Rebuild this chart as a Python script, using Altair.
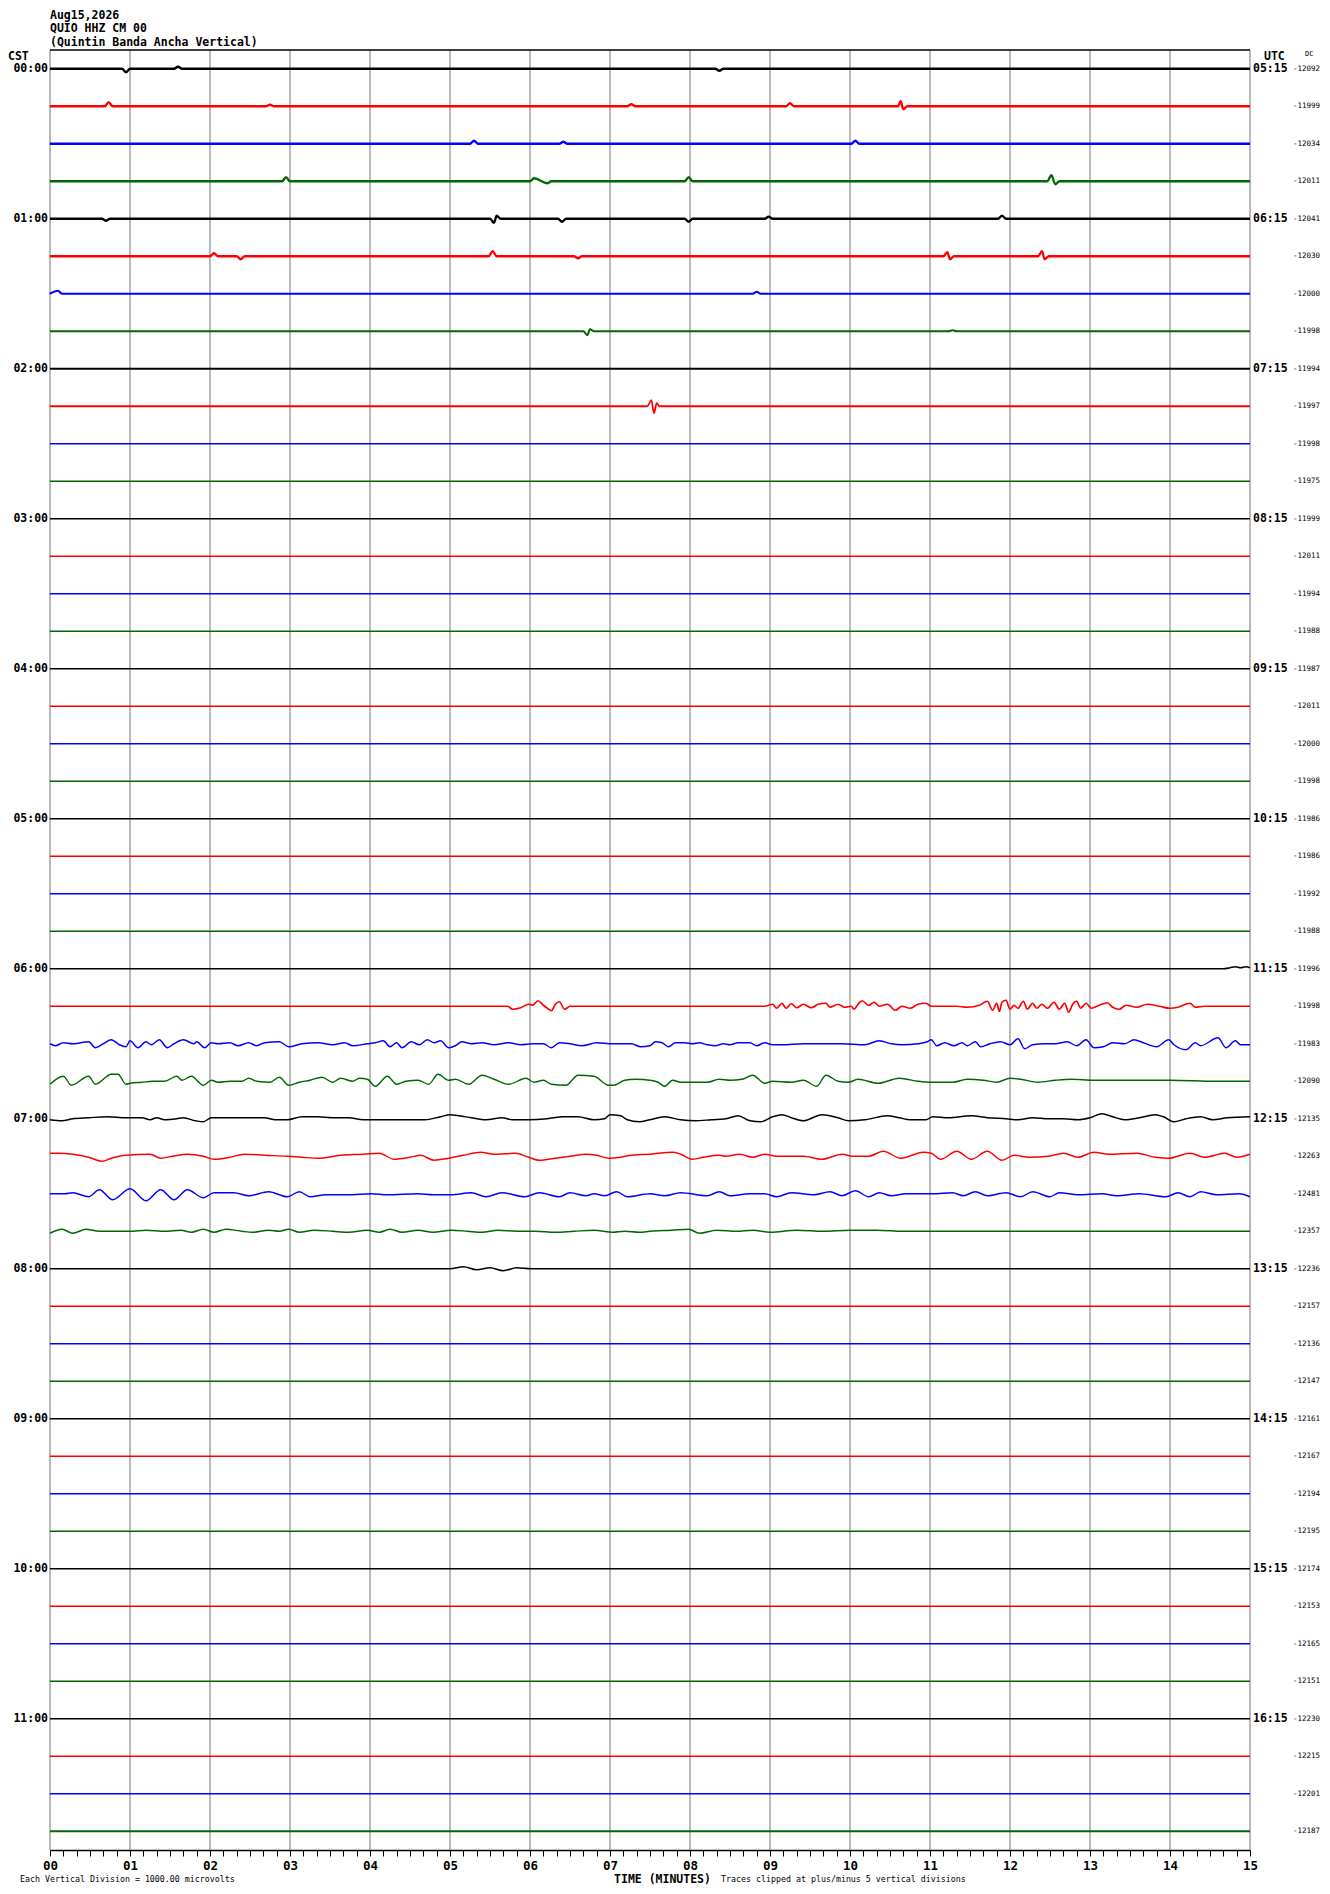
import altair as alt
import pandas as pd

FONT = "DejaVu Sans Mono"

TITLE_LINES = ["Aug15,2026", "QUIO HHZ CM 00", "(Quintin Banda Ancha Vertical)"]
LABEL_ROWS = [0, 4, 8, 12, 16, 20, 24, 28, 32, 36, 40, 44]
CST_LABELS = ["00:00", "01:00", "02:00", "03:00", "04:00", "05:00",
              "06:00", "07:00", "08:00", "09:00", "10:00", "11:00"]
UTC_LABELS = ["05:15", "06:15", "07:15", "08:15", "09:15", "10:15",
              "11:15", "12:15", "13:15", "14:15", "15:15", "16:15"]
DC_VALUES = [-12092, -11999, -12034, -12011, -12041, -12030, -12000, -11998,
             -11994, -11997, -11998, -11975, -11999, -12011, -11994, -11988,
             -11987, -12011, -12000, -11998, -11986, -11986, -11992, -11988,
             -11996, -11998, -11983, -12090, -12135, -12263, -12481, -12357,
             -12236, -12157, -12136, -12147, -12161, -12167, -12194, -12195,
             -12174, -12153, -12165, -12151, -12230, -12215, -12201, -12187]
TRACE_COLORS = ["k", "r", "b", "g"]
MINUTES = [0, 1, 2, 3, 4, 5, 6, 7, 8, 9, 10, 11, 12, 13, 14, 15]
# visual noise level of each trace (1 = quiet, 3 = very noisy)
NOISE_LEVEL = [3, 3, 3, 3, 3, 3, 2.8, 2.6,
               2.2, 2.1, 1.7, 1.7, 1.5, 1.4, 1.3, 1.3,
               1.3, 1.3, 1.3, 1.3, 1.3, 1.3, 1.3, 1.4,
               1.9, 2, 1.6, 1.5, 1.6, 1.6, 1.6, 1.6,
               1.9, 1.5, 1.5, 1.6, 1.7, 1.5, 1.5, 1.5,
               1.5, 1.5, 1.5, 1.5, 1.6, 1.5, 1.6, 2.4]

# (seconds, amplitude) keypoints read from the record, amplitude in counts (up = +)
TR_0000 = [(0, 0), (54, 0), (57, -3.5), (60, 0), (93, 0), (96, 2), (99, 0), (499, 0), (502, -2), (505, 0), (900, 0)]
TR_0015 = [(0, 0), (41, 0), (44, 4), (47, 0), (162, 0), (165, 1.5), (168, 0), (433, 0), (436, 2), (439, 0),
           (552, 0), (555, 3), (558, 0), (636, 0), (638, 5), (640, -3), (643, 0), (900, 0)]
TR_0030 = [(0, 0), (315, 0), (318, 3), (321, 0), (382, 0), (385, 2), (388, 0), (601, 0), (604, 3), (607, 0), (900, 0)]
TR_0045 = [(0, 0), (174, 0), (177, 4), (180, 0), (360, 0), (363, 3), (373, -2), (376, 0), (476, 0), (479, 4),
           (482, 0), (748, 0), (751, 6), (754, -3), (757, 0), (900, 0)]
TR_0100 = [(0, 0), (39, 0), (42, -2), (45, 0), (330, 0), (333, -4), (335, 3), (338, 0), (381, 0), (384, -3),
           (387, 0), (476, 0), (479, -3), (482, 0), (536, 0), (539, 2), (542, 0), (711, 0), (714, 3), (717, 0), (900, 0)]
TR_0115 = [(0, 0), (120, 0), (123, 3), (126, 0), (140, 0), (143, -3), (146, 0), (329, 0), (332, 5), (335, 0),
           (393, 0), (396, -2), (399, 0), (670, 0), (673, 4), (675, -3), (678, 0), (741, 0), (744, 5),
           (746, -3), (749, 0), (900, 0)]
TR_0130 = [(0, 0), (6, 3), (9, 0), (527, 0), (530, 2), (533, 0), (900, 0)]
TR_0145 = [(0, 0), (400, 0), (403, -4), (405, 2), (408, 0), (674, 0), (677, 1), (680, 0), (900, 0)]
TR_0215 = [(0, 0), (448, 0), (451, 6), (453, -7), (455, 3), (457, 0), (900, 0)]
TR_0600 = [(0, 0), (880, 0), (885, 1), (889, 2), (893, 1), (897, 2), (900, 1)]
TR_0615 = [(0, 0), (343, 0), (347, -3), (353, -1.5), (359, 2), (362, 1), (366, 5.5), (370, 1), (373, -2),
           (376, -4.5), (379, 2), (382, 4.5), (386, -3), (390, 0), (396, 0), (536, 0), (542, 2), (545, -2),
           (549, 3), (552, -2), (556, 2.5), (560, -1.5), (565, 2), (571, -1.5), (576, 2), (582, 3), (585, -1),
           (591, 2), (596, -1), (601, 0), (603, -3), (606, 2), (609, 5.5), (614, 1), (618, 4), (622, 0),
           (628, 2), (634, -4), (639, 0), (645, -2), (651, 2), (657, 3), (661, 0), (680, 0), (688, -1),
           (697, 1), (703, 5), (707, -4), (710, 3), (712, -5), (714, 4), (717, 6), (720, -3), (723, 1),
           (726, -2), (730, 5), (733, -3), (737, 3), (740, -2), (744, 2), (748, -2), (753, 4), (757, -3),
           (761, 3), (764, -6), (767, 2), (770, 5), (773, -2), (777, 3), (781, -2), (787, 1), (793, 3.5),
           (797, -1), (802, -3), (807, 1), (815, -1), (823, 2), (832, 0), (840, -2), (846, -1), (855, 3),
           (859, -1), (866, 0), (900, 0)]
TR_0630 = [(0, 0), (4, -2), (10, 1), (17, 0), (23, 1), (29, 2), (34, -4), (40, 0), (46, 4), (52, -1), (57, -3),
           (60, 3), (66, -4), (72, 2), (76, -1), (82, 4), (88, -4), (93, 0), (100, 4), (108, 0), (110, 2),
           (116, -4), (121, 1), (126, 0), (135, 1), (141, -2), (149, 1), (155, -2), (161, 1), (172, 2),
           (179, -3), (189, 0), (201, 1), (212, -1), (221, 1), (227, -2), (238, 0), (244, 1), (250, 3),
           (255, -3), (260, 1), (264, -4), (271, 2), (277, -1), (283, 4), (288, 1), (293, 3), (299, -4),
           (304, -2), (309, 2), (316, 0), (324, 1), (333, -1), (344, 1), (353, -1), (362, 0), (370, 0),
           (376, -4), (382, 1), (390, 0), (399, -2), (410, 1), (422, 0), (436, 0), (443, -3), (450, -2),
           (454, 2), (459, 1), (464, -3), (469, 1), (476, 1), (482, 0), (487, 1), (493, -1), (499, -2),
           (505, 0), (510, -1), (516, 1), (525, 1), (530, -2), (536, 1), (542, -1), (549, -1), (565, 0),
           (579, 0), (594, 0), (611, -1), (622, 3), (631, 0), (639, -1), (651, 0), (658, 2), (661, 4),
           (665, -2), (671, 1), (678, -2), (684, 1), (688, -2), (694, 2), (698, -3), (705, 0), (713, 2),
           (720, -1), (726, 5), (731, -5), (737, -1), (746, 0), (754, 0), (763, 2), (770, -2), (777, 4),
           (783, -4), (790, -3), (797, 1), (806, 0), (813, 4), (820, 1), (830, -3), (839, 4), (843, -1),
           (852, -6), (859, 1), (863, -2), (876, 6), (882, -4), (889, 3), (893, -1), (900, -1)]
TR_0645 = [(0, -3), (10, 5), (16, -4), (29, 5), (34, -3), (46, 7), (51, 7), (57, -3), (60, -2), (69, -1),
           (77, 0), (86, 0), (95, 5), (99, 1), (106, 5), (115, -4), (121, 1), (126, -1), (135, 0), (144, 0),
           (149, 3), (155, 0), (165, -1), (172, 4), (179, -4), (187, -1), (195, 1), (204, 4), (212, -1),
           (218, 3), (227, 0), (232, 3), (238, 2), (244, -5), (253, 5), (260, -3), (267, 0), (276, 1),
           (284, -3), (291, 7), (299, 1), (304, 2), (314, -3), (324, 6), (333, 2), (344, -3), (357, 3),
           (363, -1), (370, 1), (376, -3), (387, -4), (396, 6), (408, 5), (419, -4), (423, -4), (431, 1),
           (439, 2), (450, 1), (456, -1), (461, -5), (467, 1), (473, -1), (479, -1), (493, -1), (502, 2),
           (510, 1), (519, 2), (527, 6), (536, -2), (542, 0), (556, -1), (565, 1), (575, -5), (582, 6),
           (591, 0), (599, -1), (606, 2), (621, -2), (637, 3), (651, 0), (661, -1), (677, -1), (688, 2),
           (700, 1), (710, -1), (720, 3), (728, 2), (741, -1), (754, 1), (766, 2), (783, 1), (809, 1),
           (840, 1), (875, 0), (900, 0)]
TR_0700 = [(0, -1), (9, -2), (17, 0), (29, 1), (43, 2), (57, 1), (69, 1), (75, -1), (80, 1), (86, -1),
           (95, 0), (100, 1), (109, -2), (115, -3), (121, 1), (138, 1), (149, 1), (161, 1), (169, -1),
           (178, -1), (189, 2), (201, 2), (212, 1), (224, 1), (235, -1), (241, -1), (253, -1), (264, -1),
           (281, -1), (293, 2), (300, 4), (307, 3), (316, 1), (327, -1), (339, 1), (347, -1), (359, -1),
           (373, 0), (385, 2), (396, 2), (408, -1), (416, 0), (420, 4), (428, 3), (433, -1), (442, -3),
           (450, -1), (461, 2), (473, -1), (484, -2), (496, -1), (507, 0), (516, 3), (525, -2), (533, -3),
           (542, 2), (549, 4), (556, 1), (565, -2), (579, 4), (591, 1), (599, -2), (611, -1), (628, 3),
           (637, 1), (645, -1), (657, -1), (662, 2), (674, 1), (691, 3), (703, 1), (717, 0), (726, -1),
           (737, 1), (749, 0), (760, 0), (771, -1), (780, 1), (789, 5), (797, 2), (806, -1), (817, 1),
           (829, 4), (835, 2), (843, -3), (852, 0), (863, 2), (872, -1), (883, 1), (900, 2)]
TR_0715 = [(0, 3), (6, 3), (17, 2), (29, -1), (39, -5), (46, -2), (57, 1), (75, 2), (83, -2), (92, 0),
           (103, 2), (115, 0), (123, -3), (135, -1), (146, 2), (161, 1), (178, 0), (189, -1), (201, -2),
           (218, 1), (235, 2), (247, 3), (258, -3), (270, -1), (278, 1), (288, -4), (299, -2), (310, 1),
           (323, 4), (333, 2), (349, 3), (359, -1), (367, -4), (379, -2), (390, 0), (402, 2), (410, 1),
           (419, -2), (428, -1), (436, 1), (450, 2), (467, 4), (473, 2), (482, -3), (490, -1), (502, 1),
           (507, 0), (517, 2), (527, -1), (536, 2), (545, 0), (565, 0), (579, -3), (594, 2), (602, 0),
           (614, 0), (625, 5), (638, -2), (655, 4), (661, 3), (668, -3), (680, 5), (691, -3), (703, 5),
           (714, -4), (723, 1), (734, -1), (749, 0), (760, 3), (771, -1), (783, 4), (794, 2), (815, 3),
           (829, -1), (839, -2), (855, 3), (866, -1), (881, 3), (890, -1), (900, 2)]
TR_0730 = [(0, 0), (11, 0), (17, 1), (29, -3), (37, 4), (47, -6), (60, 5), (72, -7), (83, 4), (93, -6),
           (103, 4), (115, -4), (123, 1), (138, 1), (149, -2), (164, 2), (178, -3), (187, 2), (195, -3),
           (207, -1), (224, -1), (241, 0), (253, -1), (276, 0), (287, -1), (301, -1), (316, 1), (327, -3),
           (339, 1), (356, -3), (367, 1), (382, -3), (390, 1), (402, -2), (408, 0), (416, -2), (425, 2),
           (433, -3), (450, 0), (461, -2), (473, 1), (493, -2), (502, 2), (510, -2), (525, 0), (536, 0),
           (545, -3), (556, 1), (573, -1), (585, 2), (594, -2), (604, 3), (614, -3), (622, 1), (631, -2),
           (642, 0), (662, 0), (677, 1), (685, -2), (694, 2), (703, -2), (717, 1), (728, -3), (737, 2),
           (750, -3), (757, 1), (771, -1), (789, 0), (800, -2), (817, 0), (837, -3), (846, 1), (855, -3),
           (863, 2), (875, -1), (892, 0), (900, -3)]
TR_0745 = [(0, -2), (9, 2), (17, -2), (27, 2), (37, 0), (49, 0), (60, 0), (72, 1), (86, 0), (98, 1),
           (106, -1), (115, 2), (123, -1), (132, 2), (144, 0), (152, -1), (164, 1), (172, 0), (179, 2),
           (187, -1), (198, 1), (212, 0), (224, -1), (238, 1), (247, -1), (255, 2), (264, -1), (276, 1),
           (287, -1), (301, 1), (313, 0), (324, -1), (336, 1), (350, 0), (364, 0), (379, -1), (393, 0),
           (408, 1), (422, -1), (431, 0), (442, -1), (450, 0), (466, 1), (479, 2), (487, -2), (500, 1),
           (515, 0), (527, 1), (540, -1), (560, 1), (580, 0), (600, 1), (620, 1), (640, 0), (660, 0),
           (700, 0), (760, 0), (900, 0)]
TR_0800 = [(0, 0), (300, 0), (310, 2), (320, -1), (330, 1), (340, -2), (350, 1), (361, 0), (900, 0)]

TRACE_POINTS = {0: TR_0000, 1: TR_0015, 2: TR_0030, 3: TR_0045, 4: TR_0100, 5: TR_0115,
                6: TR_0130, 7: TR_0145, 9: TR_0215,
                24: TR_0600, 25: TR_0615, 26: TR_0630, 27: TR_0645, 28: TR_0700,
                29: TR_0715, 30: TR_0730, 31: TR_0745, 32: TR_0800}
COUNTS_PER_ROW = 37.5

recs = []
for r in range(len(DC_VALUES)):
    pts = TRACE_POINTS.get(r, [(0, 0), (900, 0)])
    last = -1
    for s, a in pts:
        if s <= last:
            continue
        last = s
        recs.append({"row": r, "sec": s, "y": r - a / COUNTS_PER_ROW,
                     "col": TRACE_COLORS[r % 4], "noise": NOISE_LEVEL[r]})
df = pd.DataFrame(recs)

xs = alt.Scale(domain=[0, 900], nice=False, zero=False)
ys = alt.Scale(domain=[-0.5, 47.5], nice=False, zero=False, reverse=True)

XAXIS = alt.Axis(
    values=list(range(0, 901, 10)),
    labelExpr="datum.value % 60 == 0 ? format(datum.value / 60, '02d') : ''",
    title="TIME (MINUTES)", titleX=612, titleY=29, titleAlign="center",
    titleBaseline="middle", titleFont=FONT, titleFontSize=11.5, titleFontWeight="bold",
    titleColor="black", labelFont=FONT, labelFontSize=12.5, labelFontWeight="bold",
    labelColor="black", labelPadding=3, labelFlush=False, labelOverlap=False,
    labelBound=False, tickSize=6, tickColor="black", tickWidth=1,
    domainColor="black", domainWidth=1.5, grid=False)

grid = alt.Chart(pd.DataFrame({"sec": [m * 60 for m in MINUTES]})).mark_rule(
    color="#808080", strokeWidth=1.1
).encode(x=alt.X("sec:Q", scale=xs, axis=XAXIS))

traces = alt.Chart(df).mark_line(interpolate="monotone", strokeJoin="round").encode(
    x=alt.X("sec:Q", scale=xs, axis=XAXIS),
    y=alt.Y("y:Q", scale=ys, axis=None),
    detail="row:N",
    color=alt.Color("col:N", scale=alt.Scale(domain=TRACE_COLORS,
                    range=["#000000", "#ff0000", "#0000ff", "#006600"]), legend=None),
    size=alt.Size("noise:Q", scale=alt.Scale(domain=[1, 3], range=[1.1, 2.3]), legend=None),
    order="sec:Q",
)

top_rule = alt.Chart(pd.DataFrame({"a": [0]})).mark_rule(color="black", strokeWidth=1.5).encode(
    x=alt.value(0), x2=alt.value(1200), y=alt.value(0))

lab_df = pd.DataFrame({"row": LABEL_ROWS, "cst": CST_LABELS, "utc": UTC_LABELS})
left_labels = alt.Chart(lab_df).mark_text(
    align="right", baseline="middle", font=FONT, fontSize=11.5, fontWeight="bold", color="black"
).encode(x=alt.value(-2), y=alt.Y("row:Q", scale=ys, axis=None), text="cst:N")
right_labels = alt.Chart(lab_df).mark_text(
    align="left", baseline="middle", font=FONT, fontSize=11.5, fontWeight="bold", color="black"
).encode(x=alt.value(1203), y=alt.Y("row:Q", scale=ys, axis=None), text="utc:N")

dc_df = pd.DataFrame({"row": list(range(len(DC_VALUES))), "dc": [str(v) for v in DC_VALUES]})
dc_labels = alt.Chart(dc_df).mark_text(
    align="left", baseline="middle", font=FONT, fontSize=7.5, color="black"
).encode(x=alt.value(1243), y=alt.Y("row:Q", scale=ys, axis=None), text="dc:N")


def note(txt, x, y, size, weight="normal", align="left"):
    return alt.Chart(pd.DataFrame({"t": [txt]})).mark_text(
        align=align, baseline="middle", font=FONT, fontSize=size, fontWeight=weight, color="black"
    ).encode(x=alt.value(x), y=alt.value(y), text="t:N")


notes = [
    note("CST", -42, 7, 11.5, "bold"),
    note("UTC", 1214, 7, 11.5, "bold"),
    note("DC", 1255, 4, 7),
    note("Each Vertical Division = 1000.00 microvolts", -30, 1830, 8.3),
    note("Traces clipped at plus/minus 5 vertical divisions", 671, 1830, 8.3),
]

chart = alt.layer(grid, traces, top_rule, left_labels, right_labels, dc_labels, *notes).properties(
    width=1200, height=1800,
    title=alt.TitleParams(text=TITLE_LINES, anchor="start", frame="group", font=FONT,
                          fontSize=11.5, fontWeight="bold", lineHeight=13.5, offset=1, color="black"),
    autosize=alt.AutoSizeParams(type="none"),
    padding={"left": 42, "top": 42, "right": 72, "bottom": 44},
).configure_view(stroke=None)

chart.save("out.html", embed_options={"renderer": "svg", "actions": False})
